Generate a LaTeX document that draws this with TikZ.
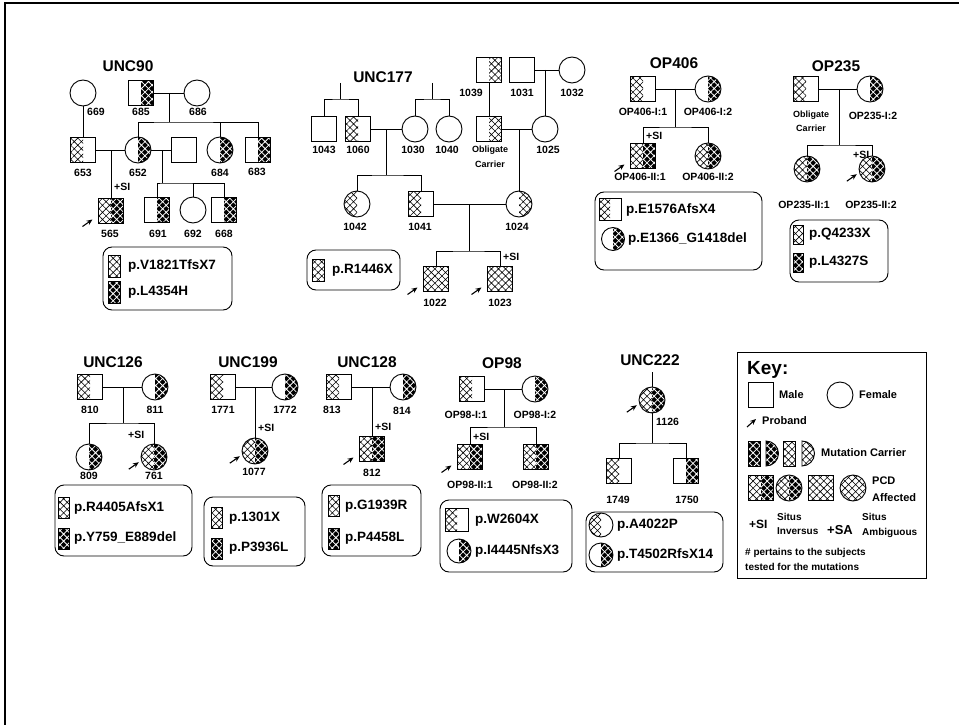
\documentclass[tikz,border=0pt]{standalone}
\usepackage{fontspec}
\setmainfont{Liberation Sans}
\usetikzlibrary{patterns.meta, arrows.meta, calc}

\newcommand\lblfont{\bfseries\fontsize{10.5}{11}\selectfont}
\newcommand\ttlfont{\bfseries\fontsize{15.5}{17}\selectfont}
\newcommand\legfont{\bfseries\fontsize{13.5}{15}\selectfont}
\newcommand\keyfont{\bfseries\fontsize{11}{12}\selectfont}

\tikzset{
  person/.style={draw, line width=0.9pt, inner sep=0pt, outer sep=0pt},
  male/.style={person, rectangle, minimum size=25pt},
  female/.style={person, circle, minimum size=26pt},
  lit/.style={pattern={Hatch[angle=45,distance=5pt,line width=0.6pt]}},
  dark/.style={preaction={fill=black}, pattern={Hatch[angle=45,distance=5pt,line width=0.8pt]}, pattern color=white},
  nof/.style={},
  halves/.style 2 args={path picture={
      \path[#1] (path picture bounding box.north west) rectangle (path picture bounding box.south);
      \path[#2] (path picture bounding box.north) rectangle (path picture bounding box.south east);}},
  link/.style={line width=0.9pt},
  lbl/.style={font=\lblfont, inner sep=1pt},
  obl/.style={font=\bfseries\fontsize{9}{10}\selectfont, inner sep=1pt},
  ttl/.style={font=\ttlfont, inner sep=1pt},
  leg/.style={font=\legfont, anchor=west, inner sep=1pt},
  keyt/.style={font=\keyfont, anchor=west, inner sep=1pt},
  legbox/.style={draw, line width=0.9pt, rounded corners=9pt},
  symb/.style={draw, line width=0.9pt},
  probarrow/.style={-{Stealth[length=6pt,width=5pt]}, line width=1.1pt},
}
\newcommand\proband[1]{\draw[probarrow] ([shift={(-16,3)}]#1.south west) -- ([shift={(-6,-4)}]#1.south west);}

\begin{document}
\begin{tikzpicture}[x=1pt, y=-1pt]
\useasboundingbox (0,0) rectangle (959,725);
\draw[line width=1.6pt] (5,725) -- (5,3) -- (959,3);

%% UNC90
\node[ttl] (t90) at (128,66) {UNC90};
\node[female] (p669) at (83,93) {};
\node[male, halves={nof}{dark}] (p685) at (141,93) {};
\node[female] (p686) at (197,93) {};
\node[male, halves={lit}{nof}] (p653) at (83,150) {};
\node[female, halves={nof}{dark}] (p652) at (138,150) {};
\node[male] (p652b) at (184,150) {};
\node[female, halves={nof}{dark}] (p684) at (220,150) {};
\node[male, halves={nof}{dark}] (p683) at (258,150) {};
\node[male, halves={lit}{dark}] (p565) at (111,211) {};
\node[male, halves={nof}{dark}] (p691) at (157,210) {};
\node[female] (p692) at (193,210) {};
\node[male, halves={nof}{dark}] (p668) at (224,210) {};
\coordinate (m685) at (169,93);
\coordinate (s685) at (169,122);
\coordinate (m653) at (111,150);
\coordinate (m652) at (162,150);
\coordinate (s652) at (162,183);
\draw[link] (p685) -- (p686);
\draw[link] (m685) -- (s685);
\draw[link] (p652) |- (s685) -| (p683);
\draw[link] (p684) -- (p684 |- s685);
\draw[link] (p669) -- (p653);
\draw[link] (p653) -- (p652);
\draw[link] (m653) -- (p565);
\draw[link] (p652) -- (p652b);
\draw[link] (m652) -- (s652);
\draw[link] (p691) |- (s652) -| (p668);
\draw[link] (p692) -- (p692 |- s652);
\proband{p565}
\node[lbl] (l669) at (96,112) {669};
\node[lbl] (l685) at (141,112) {685};
\node[lbl] (l686) at (198,112) {686};
\node[lbl] (l653) at (83,173) {653};
\node[lbl] (l652) at (138,173) {652};
\node[lbl] (l684) at (220,173) {684};
\node[lbl] (l683) at (257,172) {683};
\node[lbl, anchor=west] (si565) at (113,187) {+SI};
\node[lbl] (l565) at (110,234) {565};
\node[lbl] (l691) at (158,234) {691};
\node[lbl] (l692) at (193,234) {692};
\node[lbl] (l668) at (224,234) {668};
\draw[legbox] (103,247) rectangle (232,310);
\path[lit, symb] (108,255) rectangle (120,277);
\node[leg] (g90a) at (127,266) {p.V1821TfsX7};
\path[dark, symb] (108,281) rectangle (120,303);
\node[leg] (g90b) at (127,292) {p.L4354H};

%% UNC177
\node[ttl] (t177) at (383,77) {UNC177};
\coordinate (g1) at (340,83);
\coordinate (g1s) at (340,99);
\coordinate (g2) at (432,83);
\coordinate (g2s) at (432,99);
\node[male] (p1043) at (324,129) {};
\node[male, halves={lit}{nof}] (p1060) at (358,129) {};
\node[female] (p1030) at (415,129) {};
\node[female] (p1040) at (449,129) {};
\node[male, halves={nof}{lit}] (p1039) at (489,70) {};
\node[male] (p1031) at (522,70) {};
\node[female] (p1032) at (572,70) {};
\node[male, halves={nof}{lit}] (pobl) at (489,129) {};
\node[female] (p1025) at (545,129) {};
\node[female, halves={lit}{nof}] (p1042) at (357,204) {};
\node[male, halves={lit}{nof}] (p1041) at (421,204) {};
\node[female, halves={nof}{lit}] (p1024) at (519,204) {};
\node[male, halves={lit}{lit}] (p1022) at (436,279) {};
\node[male, halves={lit}{lit}] (p1023) at (500,279) {};
\coordinate (m1060) at (386,129);
\coordinate (s1060) at (386,175);
\coordinate (m1031) at (545,70);
\coordinate (mobl) at (519,129);
\coordinate (m1041) at (469,204);
\coordinate (s1041) at (469,251);
\draw[link] (g1) -- (g1s);
\draw[link] (p1043) |- (g1s) -| (p1060);
\draw[link] (g2) -- (g2s);
\draw[link] (p1030) |- (g2s) -| (p1040);
\draw[link] (p1060) -- (p1030);
\draw[link] (m1060) -- (s1060);
\draw[link] (p1042) |- (s1060) -| (p1041);
\draw[link] (p1039) -- (pobl);
\draw[link] (p1031) -- (p1032);
\draw[link] (m1031) -- (p1025);
\draw[link] (pobl) -- (p1025);
\draw[link] (mobl) -- (p1024);
\draw[link] (p1041) -- (p1024);
\draw[link] (m1041) -- (s1041);
\draw[link] (p1022) |- (s1041) -| (p1023);
\proband{p1022}
\proband{p1023}
\node[lbl] (l1039) at (471,93) {1039};
\node[lbl] (l1031) at (522,93) {1031};
\node[lbl] (l1032) at (572,93) {1032};
\node[lbl] (l1043) at (324,150) {1043};
\node[lbl] (l1060) at (358,150) {1060};
\node[lbl] (l1030) at (413,150) {1030};
\node[lbl] (l1040) at (447,150) {1040};
\node[obl] (lobl1) at (490,150) {Obligate};
\node[obl] (lobl2) at (490,164) {Carrier};
\node[lbl] (l1025) at (548,150) {1025};
\node[lbl] (l1042) at (355,227) {1042};
\node[lbl] (l1041) at (420,227) {1041};
\node[lbl] (l1024) at (517,227) {1024};
\node[lbl, anchor=west] (si1023) at (502,257) {+SI};
\node[lbl] (l1022) at (435,303) {1022};
\node[lbl] (l1023) at (500,303) {1023};
\draw[legbox] (307,250) rectangle (400,290);
\path[lit, symb] (312,259) rectangle (324,281);
\node[leg] (g177a) at (331,270) {p.R1446X};

%% OP406
\node[ttl] (t406) at (674,63) {OP406};
\node[male, halves={lit}{nof}] (o406f) at (643,89) {};
\node[female, halves={nof}{dark}] (o406m) at (708,89) {};
\node[male, halves={lit}{dark}] (o406s) at (643,156) {};
\node[female, halves={lit}{dark}] (o406d) at (708,156) {};
\coordinate (m406) at (675,89);
\coordinate (s406) at (675,127);
\draw[link] (o406f) -- (o406m);
\draw[link] (m406) -- (s406);
\draw[link] (o406s) |- (s406) -| (o406d);
\proband{o406s}
\node[lbl] (l406f) at (643,112) {OP406-I:1};
\node[lbl] (l406m) at (708,112) {OP406-I:2};
\node[lbl, anchor=west] (si406) at (645,136) {+SI};
\node[lbl] (l406s) at (640,177) {OP406-II:1};
\node[lbl] (l406d) at (708,177) {OP406-II:2};
\draw[legbox] (595,192) rectangle (762,270);
\node[male, minimum size=22pt, halves={lit}{nof}] (k406a) at (610,209) {};
\node[leg] (g406a) at (625,210) {p.E1576AfsX4};
\node[female, minimum size=23pt, halves={nof}{dark}] (k406b) at (613,239) {};
\node[leg] (g406b) at (627,239) {p.E1366\_G1418del};

%% OP235
\node[ttl] (t235) at (836,66) {OP235};
\node[male, halves={lit}{nof}] (o235f) at (806,89) {};
\node[female, halves={nof}{dark}] (o235m) at (870,89) {};
\node[female, halves={lit}{dark}] (o235d1) at (807,169) {};
\node[female, halves={lit}{dark}] (o235d2) at (872,169) {};
\coordinate (m235) at (839,89);
\coordinate (s235) at (839,145);
\draw[link] (o235f) -- (o235m);
\draw[link] (m235) -- (s235);
\draw[link] (o235d1) |- (s235) -| (o235d2);
\proband{o235d2}
\node[obl] (lobl3) at (811,115) {Obligate};
\node[obl] (lobl4) at (811,128) {Carrier};
\node[lbl] (l235m) at (873,116) {OP235-I:2};
\node[lbl, anchor=west] (si235) at (852,155) {+SI};
\node[lbl] (l235d1) at (804,205) {OP235-II:1};
\node[lbl] (l235d2) at (871,205) {OP235-II:2};
\draw[legbox] (790,220) rectangle (888,282);
\path[lit, symb] (793,225) rectangle (803,244);
\node[leg] (g235a) at (808,234) {p.Q4233X};
\path[dark, symb] (793,253) rectangle (803,272);
\node[leg] (g235b) at (808,262) {p.L4327S};

%% UNC126
\node[ttl] (t126) at (113,362) {UNC126};
\node[male, halves={lit}{nof}] (p810) at (90,387) {};
\node[female, halves={nof}{dark}] (p811) at (155,387) {};
\node[female, halves={nof}{dark}] (p809) at (89,457) {};
\node[female, halves={lit}{dark}] (p761) at (154,457) {};
\coordinate (m810) at (123,387);
\coordinate (s810) at (123,423);
\draw[link] (p810) -- (p811);
\draw[link] (m810) -- (s810);
\draw[link] (p809) |- (s810) -| (p761);
\proband{p761}
\node[lbl] (l810) at (90,410) {810};
\node[lbl] (l811) at (155,410) {811};
\node[lbl, anchor=west] (si761) at (127,435) {+SI};
\node[lbl] (l809) at (89,476) {809};
\node[lbl] (l761) at (154,476) {761};
\draw[legbox] (55,485) rectangle (192,556);
\path[lit, symb] (58,497) rectangle (69,518);
\node[leg] (g126a) at (73,508) {p.R4405AfsX1};
\path[dark, symb] (58,528) rectangle (69,549);
\node[leg] (g126b) at (73,538) {p.Y759\_E889del};

%% UNC199
\node[ttl] (t199) at (248,362) {UNC199};
\node[male, halves={lit}{nof}] (p1771) at (223,387) {};
\node[female, halves={nof}{dark}] (p1772) at (285,387) {};
\node[female, halves={lit}{dark}] (p1077) at (255,451) {};
\coordinate (m1771) at (255,387);
\draw[link] (p1771) -- (p1772);
\draw[link] (m1771) -- (p1077);
\proband{p1077}
\node[lbl] (l1771) at (223,410) {1771};
\node[lbl] (l1772) at (285,410) {1772};
\node[lbl, anchor=west] (si1077) at (257,428) {+SI};
\node[lbl] (l1077) at (254,472) {1077};
\draw[legbox] (204,497) rectangle (305,566);
\path[lit, symb] (211,507) rectangle (222,528);
\node[leg] (g199a) at (228,518) {p.1301X};
\path[dark, symb] (211,538) rectangle (222,559);
\node[leg] (g199b) at (228,548) {p.P3936L};

%% UNC128
\node[ttl] (t128) at (367,362) {UNC128};
\node[male, halves={lit}{nof}] (p813) at (339,387) {};
\node[female, halves={nof}{dark}] (p814) at (403,387) {};
\node[male, halves={lit}{dark}] (p812) at (372,449) {};
\coordinate (m813) at (372,387);
\draw[link] (p813) -- (p814);
\draw[link] (m813) -- (p812);
\proband{p812}
\node[lbl] (l813) at (332,410) {813};
\node[lbl] (l814) at (402,411) {814};
\node[lbl, anchor=west] (si812) at (374,427) {+SI};
\node[lbl] (l812) at (372,473) {812};
\draw[legbox] (322,485) rectangle (421,556);
\path[lit, symb] (328,495) rectangle (339,516);
\node[leg] (g128a) at (344,506) {p.G1939R};
\path[dark, symb] (328,528) rectangle (339,549);
\node[leg] (g128b) at (344,538) {p.P4458L};

%% OP98
\node[ttl] (t98) at (502,363) {OP98};
\node[male, halves={lit}{nof}] (o98f) at (472,389) {};
\node[female, halves={nof}{dark}] (o98m) at (535,389) {};
\node[male, halves={lit}{dark}] (o98s1) at (470,457) {};
\node[male, halves={lit}{dark}] (o98s2) at (536,457) {};
\coordinate (m98) at (504,389);
\coordinate (s98) at (504,427);
\draw[link] (o98f) -- (o98m);
\draw[link] (m98) -- (s98);
\draw[link] (o98s1) |- (s98) -| (o98s2);
\proband{o98s1}
\node[lbl] (l98f) at (466,415) {OP98-I:1};
\node[lbl] (l98m) at (535,415) {OP98-I:2};
\node[lbl, anchor=west] (si98) at (472,437) {+SI};
\node[lbl] (l98s1) at (470,485) {OP98-II:1};
\node[lbl] (l98s2) at (535,485) {OP98-II:2};
\draw[legbox] (440,500) rectangle (572,572);
\node[male, minimum size=23pt, halves={lit}{nof}] (k98a) at (457,520) {};
\node[leg] (g98a) at (474,520) {p.W2604X};
\node[female, minimum size=24pt, halves={nof}{dark}] (k98b) at (459,551) {};
\node[leg] (g98b) at (474,551) {p.I4445NfsX3};

%% UNC222
\node[ttl] (t222) at (650,360) {UNC222};
\coordinate (g222) at (652,372);
\node[female, halves={lit}{dark}] (p1126) at (652,400) {};
\node[male, halves={lit}{nof}] (p1749) at (619,471) {};
\node[male, halves={nof}{dark}] (p1750) at (686,471) {};
\coordinate (s1126) at (652,443);
\draw[link] (g222) -- (p1126);
\draw[link] (p1126) -- (s1126);
\draw[link] (p1749) |- (s1126) -| (p1750);
\proband{p1126}
\node[lbl, anchor=west] (l1126) at (655,422) {1126};
\node[lbl] (l1749) at (618,500) {1749};
\node[lbl] (l1750) at (687,500) {1750};
\draw[legbox] (586,512) rectangle (723,572);
\node[female, minimum size=24pt, halves={lit}{nof}] (k222a) at (601,525) {};
\node[leg] (g222a) at (616,525) {p.A4022P};
\node[female, minimum size=24pt, halves={nof}{dark}] (k222b) at (601,555) {};
\node[leg] (g222b) at (616,555) {p.T4502RfsX14};

%% Key
\draw[line width=0.9pt] (737,352) rectangle (926,578);
\node[font=\bfseries\fontsize{19}{21}\selectfont, anchor=west, inner sep=0pt] (kkey) at (747,370) {Key:};
\node[male] (kmale) at (761,395) {};
\node[keyt] (kmalet) at (778,395) {Male};
\node[female] (kfem) at (840,395) {};
\node[keyt] (kfemt) at (858,395) {Female};
\coordinate (kpa) at (752,422);
\draw[probarrow] ([shift={(-5,5)}]kpa) -- ([shift={(4,-3)}]kpa);
\node[keyt] (kprob) at (761,421) {Proband};
\path[dark, symb] (748,441) rectangle (760,466);
\path[dark, symb] (766,441) arc[start angle=-90, end angle=90, radius=12.5] -- cycle;
\path[lit, symb] (783,441) rectangle (795,466);
\path[lit, symb] (802,441) arc[start angle=-90, end angle=90, radius=12.5] -- cycle;
\node[keyt] (kcar) at (820,453) {Mutation Carrier};
\node[male, halves={lit}{dark}] (kaf1) at (761,488) {};
\node[female, halves={lit}{dark}] (kaf2) at (789,488) {};
\node[male, halves={lit}{lit}] (kaf3) at (821,488) {};
\node[female, halves={lit}{lit}] (kaf4) at (853,488) {};
\node[keyt] (kpcd) at (871,481) {PCD};
\node[keyt] (kaff) at (871,498) {Affected};
\node[keyt, font=\bfseries\fontsize{12}{13}\selectfont] (ksi) at (748,524) {+SI};
\node[keyt, font=\bfseries\fontsize{10}{11}\selectfont] (ksi1) at (776,517) {Situs};
\node[keyt, font=\bfseries\fontsize{10}{11}\selectfont] (ksi2) at (776,531) {Inversus};
\node[keyt, font=\bfseries\fontsize{13}{14}\selectfont] (ksa) at (826,530) {+SA};
\node[keyt, font=\bfseries\fontsize{10}{11}\selectfont] (ksa1) at (861,517) {Situs};
\node[keyt, font=\bfseries\fontsize{10}{11}\selectfont] (ksa2) at (861,533) {Ambiguous};
\node[keyt, font=\bfseries\fontsize{10}{11}\selectfont] (knote1) at (744,553) {\# pertains to the subjects};
\node[keyt, font=\bfseries\fontsize{10}{11}\selectfont] (knote2) at (744,567) {tested for the mutations};
\end{tikzpicture}
\end{document}
